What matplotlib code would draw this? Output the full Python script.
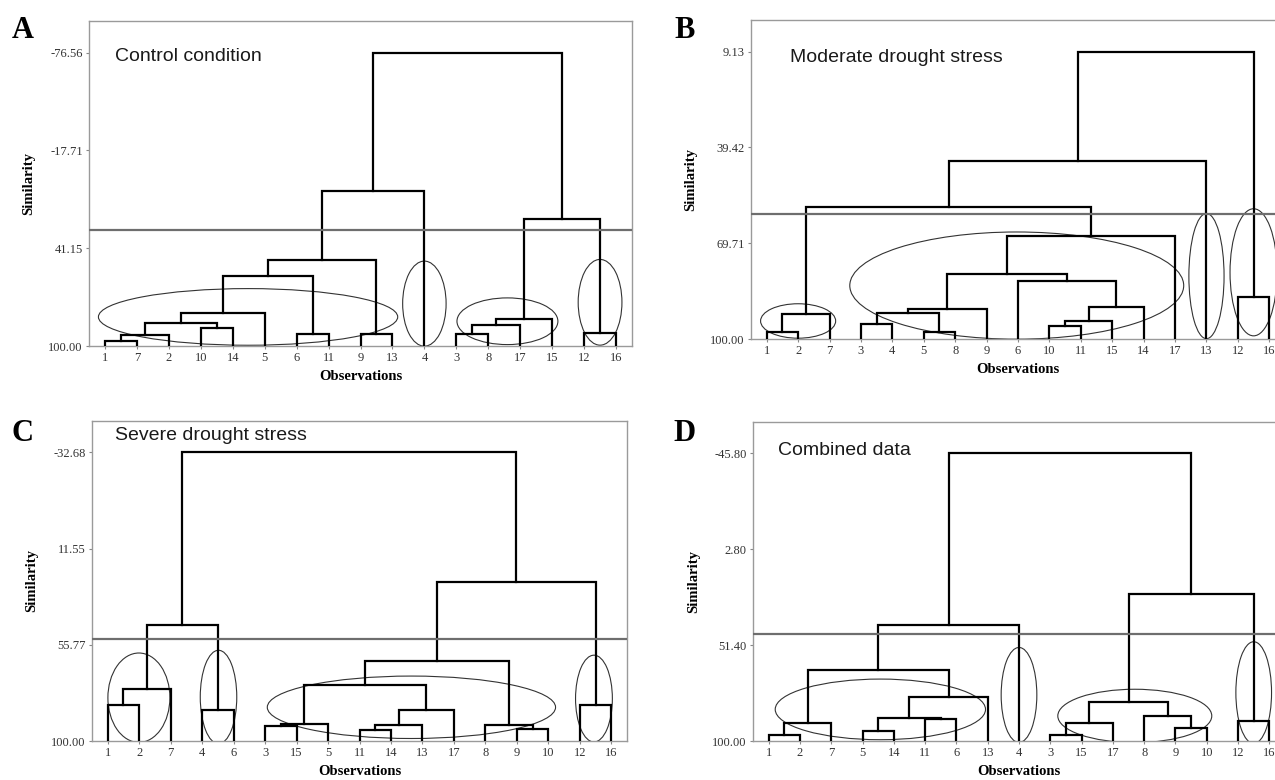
import matplotlib
matplotlib.use("Agg")
import matplotlib.pyplot as plt
from matplotlib.patches import Ellipse

# orden de las hojas en cada dendrograma
hojas_a = [1, 7, 2, 10, 14, 5, 6, 11, 9, 13, 4, 3, 8, 17, 15, 12, 16]
hojas_b = [1, 2, 7, 3, 4, 5, 8, 9, 6, 10, 11, 15, 14, 17, 13, 12, 16]
hojas_c = [1, 2, 7, 4, 6, 3, 15, 5, 11, 14, 13, 17, 8, 9, 10, 12, 16]
hojas_d = [1, 2, 7, 5, 14, 11, 6, 13, 4, 3, 15, 17, 8, 9, 10, 12, 16]

# uniones: (observacion del grupo 1, observacion del grupo 2, similitud)
uniones_a = [(1, 7, 97.0), (1, 2, 93.2), (10, 14, 89.0), (1, 10, 86.4), (1, 5, 79.9),
             (6, 11, 92.8), (1, 6, 58.1), (9, 13, 93.0), (1, 9, 48.4), (1, 4, 6.7),
             (3, 8, 92.8), (3, 17, 87.6), (3, 15, 83.9), (12, 16, 92.0), (3, 12, 23.7),
             (1, 3, -76.56)]
uniones_b = [(1, 2, 97.9), (1, 7, 92.1), (3, 4, 95.1), (5, 8, 97.9), (3, 5, 91.8),
             (3, 9, 90.5), (10, 11, 95.8), (10, 15, 94.2), (10, 14, 89.8), (6, 10, 81.5),
             (3, 6, 79.5), (3, 17, 67.4), (1, 3, 58.1), (1, 13, 43.7), (12, 16, 86.6),
             (1, 12, 9.13)]
uniones_c = [(1, 2, 83.6), (1, 7, 75.9), (4, 6, 85.6), (1, 4, 46.8), (3, 15, 93.2),
             (3, 5, 92.0), (11, 14, 94.9), (11, 13, 92.6), (11, 17, 85.6), (3, 11, 74.1),
             (9, 10, 94.5), (8, 9, 92.6), (3, 8, 63.3), (12, 16, 83.6), (3, 12, 27.1),
             (1, 3, -32.68)]
uniones_d = [(1, 2, 97.1), (1, 7, 90.9), (5, 14, 95.1), (11, 6, 88.7), (5, 11, 88.4),
             (5, 13, 77.7), (1, 5, 63.9), (1, 4, 41.1), (3, 15, 97.1), (3, 17, 90.9),
             (9, 10, 93.4), (8, 9, 87.5), (3, 8, 80.3), (12, 16, 89.9), (3, 12, 25.4),
             (1, 3, -45.80)]

# marcas del eje y
ticks_a = [-76.56, -17.71, 41.15, 100.00]
ticks_b = [9.13, 39.42, 69.71, 100.00]
ticks_c = [-32.68, 11.55, 55.77, 100.00]
ticks_d = [-45.80, 2.80, 51.40, 100.00]

# linea de corte
corte_a = 30.2
corte_b = 60.6
corte_c = 53.3
corte_d = 45.8

# elipses de grupos: (centro hoja, centro similitud, ancho, alto)
elipses_a = [(5.48, 82.5, 9.37, 34.1), (11.0, 74.5, 1.36, 51.2),
             (13.6, 85.1, 3.16, 28.1), (16.5, 73.7, 1.37, 51.6)]
elipses_b = [(2.0, 94.3, 2.39, 10.9), (8.96, 83.1, 10.63, 33.9),
             (15.0, 80.1, 1.12, 39.6), (16.5, 78.9, 1.5, 40.2)]
elipses_c = [(1.99, 80.1, 1.97, 41.1), (4.52, 79.8, 1.16, 43.0),
             (10.65, 84.5, 9.16, 28.7), (16.45, 80.5, 1.17, 39.9)]
elipses_d = [(4.57, 84.0, 6.72, 30.7), (9.0, 76.7, 1.14, 48.1),
             (12.7, 87.3, 4.92, 27.0), (16.5, 75.5, 1.14, 51.5)]

titulos = ['Control condition', 'Moderate drought stress', 'Severe drought stress', 'Combined data']
letras = ['A', 'B', 'C', 'D']

SERIF = ['Liberation Serif', 'DejaVu Serif']
SANS = ['Liberation Sans', 'DejaVu Sans']


def dendrograma(ax, hojas, uniones):
    # cada grupo guarda (posicion x, altura)
    grupo = {h: h for h in hojas}
    pos = {h: (i + 1, 100.0) for i, h in enumerate(hojas)}
    for a, b, sim in uniones:
        ga, gb = grupo[a], grupo[b]
        xa, ya = pos[ga]
        xb, yb = pos[gb]
        ax.plot([xa, xa, xb, xb], [ya, sim, sim, yb], color='black', lw=1.6,
                solid_joinstyle='miter', zorder=3)
        for h, g in grupo.items():
            if g == gb:
                grupo[h] = ga
        pos[ga] = ((xa + xb) / 2, sim)


fig = plt.figure(figsize=(12.75, 7.8), dpi=100)

rects = [[89 / 1275, 434 / 780, 543 / 1275, 325 / 780],
         [751 / 1275, 441 / 780, 534 / 1275, 319 / 780],
         [92 / 1275, 39 / 780, 535 / 1275, 320 / 780],
         [753 / 1275, 39 / 780, 532 / 1275, 319 / 780]]
paneles = [(hojas_a, uniones_a, ticks_a, corte_a, elipses_a, -95.6),
           (hojas_b, uniones_b, ticks_b, corte_b, elipses_b, -0.9),
           (hojas_c, uniones_c, ticks_c, corte_c, elipses_c, -47.1),
           (hojas_d, uniones_d, ticks_d, corte_d, elipses_d, -61.5)]
pos_titulo = [(0.048, 0.892), (0.073, 0.884), (0.043, 0.956), (0.047, 0.912)]
pos_letra = [(12, 38), (674, 38), (12, 441), (673, 441)]

for i, (hojas, uniones, ticks, corte, elipses, ytop) in enumerate(paneles):
    ax = fig.add_axes(rects[i])
    dendrograma(ax, hojas, uniones)
    for cx, cy, w, h in elipses:
        ax.add_patch(Ellipse((cx, cy), w, h, fill=False, ec='#333333', lw=0.8, zorder=2))
    ax.axhline(corte, color='#6e6e6e', lw=1.6, zorder=4)
    ax.set_xlim(0.5, 17.5)
    ax.set_ylim(100, ytop)
    ax.set_xticks(range(1, 18))
    ax.set_xticklabels([str(h) for h in hojas], family=SERIF, fontsize=9, color='#333333')
    ax.set_yticks(ticks)
    ax.set_yticklabels(['%.2f' % t for t in ticks], family=SERIF, fontsize=9, color='#333333')
    ax.tick_params(length=2.5, width=0.8, color='#888888', pad=2)
    for s in ax.spines.values():
        s.set_color('#9a9a9a')
        s.set_linewidth(1.0)
    ax.set_ylabel('Similarity', family=SERIF, fontweight='bold', fontsize=10.5)
    ax.set_xlabel('Observations', family=SERIF, fontweight='bold', fontsize=10.5)
    ax.yaxis.set_label_coords(-0.1, 0.5)
    ax.xaxis.set_label_coords(0.5, -0.075)
    ax.text(pos_titulo[i][0], pos_titulo[i][1], titulos[i], transform=ax.transAxes,
            family=SANS, fontsize=14, color='#1a1a1a', ha='left', va='center')
    fig.text(pos_letra[i][0] / 1275, 1 - pos_letra[i][1] / 780, letras[i],
             family=SERIF, fontweight='bold', fontsize=22, ha='left', va='baseline')

fig.savefig('out.png', dpi=100)
